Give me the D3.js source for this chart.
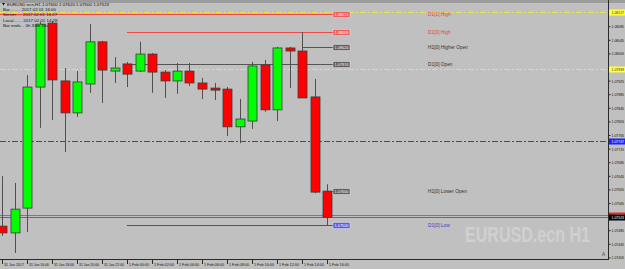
<!DOCTYPE html>
<html lang="en">
<head>
<meta charset="UTF-8">
<title>EURUSD.ecn H1</title>
<style>
  body { margin: 0; background: #c0c0c0; }
  svg { display: block; font-family: "Liberation Sans", Arial, sans-serif; }
  .narrow { font-family: "Liberation Sans Narrow", "Arial Narrow", "Liberation Sans", sans-serif; }
</style>
</head>
<body>
<div id="chart"></div>
<script src="https://d3js.org/d3.v7.min.js"></script>
<script>
// ---- data ----
const barTimes = [
  "2017.01.31 14:00", "2017.01.31 15:00", "2017.01.31 16:00", "2017.01.31 17:00", "2017.01.31 18:00",
  "2017.01.31 19:00", "2017.01.31 20:00", "2017.01.31 21:00", "2017.01.31 22:00", "2017.01.31 23:00",
  "2017.02.01 00:00", "2017.02.01 01:00", "2017.02.01 02:00", "2017.02.01 03:00", "2017.02.01 04:00",
  "2017.02.01 05:00", "2017.02.01 06:00", "2017.02.01 07:00", "2017.02.01 08:00", "2017.02.01 09:00",
  "2017.02.01 10:00", "2017.02.01 11:00", "2017.02.01 12:00", "2017.02.01 13:00", "2017.02.01 14:00",
  "2017.02.01 15:00", "2017.02.01 16:00"
];
const opens  = [1.07497, 1.07477, 1.07550, 1.07906, 1.08094, 1.07924, 1.07830, 1.07915, 1.08039, 1.07953,
                1.07974, 1.07953, 1.08003, 1.07950, 1.07924, 1.07953, 1.07918, 1.07903, 1.07900, 1.07789,
                1.07806, 1.07971, 1.07839, 1.08021, 1.08012, 1.07877, 1.07600];
const highs  = [1.07644, 1.07624, 1.07941, 1.08097, 1.08100, 1.07962, 1.07953, 1.08091, 1.08042, 1.07994,
                1.07980, 1.08039, 1.08006, 1.07956, 1.07977, 1.07977, 1.07933, 1.07918, 1.07906, 1.07871,
                1.07980, 1.07986, 1.08024, 1.08024, 1.08068, 1.07930, 1.07620];
const lows   = [1.07468, 1.07418, 1.07480, 1.07786, 1.07809, 1.07715, 1.07818, 1.07889, 1.07859, 1.07918,
                1.07906, 1.07950, 1.07889, 1.07874, 1.07886, 1.07909, 1.07871, 1.07868, 1.07762, 1.07741,
                1.07783, 1.07833, 1.07806, 1.07903, 1.07874, 1.07594, 1.07500];
const closes = [1.07477, 1.07547, 1.07906, 1.08091, 1.07927, 1.07830, 1.07921, 1.08039, 1.07956, 1.07962,
                1.07944, 1.08003, 1.07950, 1.07924, 1.07953, 1.07918, 1.07900, 1.07897, 1.07789, 1.07812,
                1.07968, 1.07839, 1.08021, 1.08012, 1.07874, 1.07597, 1.07523];

const priceTicks = [1.08085, 1.08045, 1.08005, 1.07925, 1.07885, 1.07845, 1.07805, 1.07765, 1.07725,
                    1.07685, 1.07645, 1.07605, 1.07565, 1.07485, 1.07445, 1.07405];
const timeTicks = ["2017.01.31 14:00", "2017.01.31 16:00", "2017.01.31 18:00", "2017.01.31 20:00",
                   "2017.01.31 22:00", "2017.02.01 00:00", "2017.02.01 02:00", "2017.02.01 04:00",
                   "2017.02.01 06:00", "2017.02.01 08:00", "2017.02.01 10:00", "2017.02.01 12:00",
                   "2017.02.01 14:00", "2017.02.01 16:00"];
const timeLabels = ["31 Jan 2017", "31 Jan 16:00", "31 Jan 18:00", "31 Jan 20:00", "31 Jan 22:00",
                    "1 Feb 00:00", "1 Feb 02:00", "1 Feb 04:00", "1 Feb 06:00", "1 Feb 08:00",
                    "1 Feb 10:00", "1 Feb 12:00", "1 Feb 14:00", "1 Feb 16:00"];

// level lines drawn by the indicator
const levelNames  = ["D1[1] High", "D1[0] High", "H1[0] Higher Open", "D1[0] Open", "H1[0] Lower Open", "D1[0] Low"];
const levelKinds  = ["high", "high", "open", "open", "open", "low"];
const levelPrices = [1.08121, 1.08068, 1.08024, 1.07974, 1.07600, 1.07500];
const levelStarts = ["2017.01.31 00:00", "2017.02.01 00:00", "2017.02.01 14:00", "2017.02.01 00:00", "2017.02.01 16:00", "2017.02.01 00:00"];

// full width lines: pivots, bid, ask
const pivotPrices = [1.08127, 1.07959];
const midPrice = 1.07747;
const askPrice = 1.07530;
const bidPrice = 1.07523;

const infoLines = [
  "EURUSD.ecn,H1  1.07600 1.07620 1.07500 1.07523",
  "Bar.........  2017.02.01 16:00",
  "Server.....  2017.02.01 16:27",
  "Local.......  2017.02.01 14:28",
  "Bar ends...  0h 33m 34s"
];

// ---- chart ----
const W = 625, H = 269;
const plotRight = 608, plotTop = 4, plotBottom = 259;
const parse = d3.timeParse("%Y.%m.%d %H:%M");

const x = d3.scaleTime()
  .domain([parse(barTimes[0]), parse(barTimes[barTimes.length - 1])])
  .range([2, 327]);
const y = d3.scaleLinear().domain([1.074, 1.0815]).range([259.1, 4.1]);
const fmt = d3.format(".5f");
const py = p => Math.round(y(p)) + 0.5;

const svg = d3.select("#chart").append("svg")
  .attr("width", W).attr("height", H);

svg.append("rect").attr("width", W).attr("height", H).attr("fill", "#c0c0c0");
svg.append("rect").attr("width", W).attr("height", 3).attr("fill", "#9c9c9c");

// watermark
svg.append("text")
  .attr("x", 465).attr("y", 242)
  .attr("font-size", 22).attr("font-weight", "bold")
  .attr("textLength", 125).attr("lengthAdjust", "spacingAndGlyphs")
  .attr("fill", "#d0d0d0")
  .text("EURUSD.ecn H1");

svg.append("clipPath").attr("id", "clip")
  .append("rect").attr("x", 0).attr("y", plotTop).attr("width", plotRight).attr("height", plotBottom - plotTop);
const plot = svg.append("g").attr("clip-path", "url(#clip)");

// pivot / mid lines
plot.selectAll(".pivot").data(pivotPrices).join("line")
  .attr("x1", 0).attr("x2", plotRight)
  .attr("y1", py).attr("y2", py)
  .attr("stroke", "#e6e64a").attr("stroke-dasharray", "6,2,2,2");
plot.append("line")
  .attr("x1", 0).attr("x2", plotRight)
  .attr("y1", py(midPrice)).attr("y2", py(midPrice))
  .attr("stroke", "#3c3cc8").attr("stroke-dasharray", "6,2,2,2");

// ask / bid
plot.append("line")
  .attr("x1", 0).attr("x2", plotRight)
  .attr("y1", py(askPrice)).attr("y2", py(askPrice))
  .attr("stroke", "#f04848");
plot.append("line")
  .attr("x1", 0).attr("x2", plotRight)
  .attr("y1", py(bidPrice)).attr("y2", py(bidPrice))
  .attr("stroke", "#6a6a6a");

// indicator levels
const lineColor = { high: "#f04848", open: "#555", low: "#4444dd" };
const boxColor  = { high: "#f05a5a", open: "#5e5e5e", low: "#5a5ae6" };
const textColor = { high: "#e04646", open: "#333", low: "#3c3cc8" };
const boxX = 333;

const levels = levelNames.map((n, i) => ({ name: n, kind: levelKinds[i], price: levelPrices[i], start: parse(levelStarts[i]) }));
plot.selectAll(".lvl").data(levels).join("line")
  .attr("x1", d => Math.max(0, x(d.start))).attr("x2", boxX)
  .attr("y1", d => py(d.price)).attr("y2", d => py(d.price))
  .attr("stroke", d => lineColor[d.kind]);

// candles
const bars = barTimes.map((t, i) => ({ t: parse(t), o: opens[i], h: highs[i], l: lows[i], c: closes[i] }));
const bw = 9;
const candle = plot.selectAll(".bar").data(bars).join("g");
candle.append("line")
  .attr("x1", d => Math.round(x(d.t)) + 0.5).attr("x2", d => Math.round(x(d.t)) + 0.5)
  .attr("y1", d => y(d.h)).attr("y2", d => y(d.l))
  .attr("stroke", "#505050");
candle.append("rect")
  .attr("x", d => Math.round(x(d.t)) - bw / 2 + 0.5)
  .attr("y", d => y(Math.max(d.o, d.c)))
  .attr("width", bw)
  .attr("height", d => Math.max(2, Math.abs(y(d.o) - y(d.c))))
  .attr("fill", d => d.c >= d.o ? "#00ff00" : "#ff0000")
  .attr("stroke", "#3a3a3a").attr("stroke-width", 0.8);

// level boxes and names
const lvlG = plot.selectAll(".lbl").data(levels).join("g")
  .attr("transform", d => `translate(${boxX},${py(d.price)})`);
lvlG.append("rect")
  .attr("x", 0).attr("y", -3).attr("width", 17).attr("height", 6)
  .attr("fill", d => boxColor[d.kind]).attr("stroke", "#e8e8e8").attr("stroke-width", 0.5);
lvlG.append("text")
  .attr("class", "narrow")
  .attr("x", 1.5).attr("y", 1.7)
  .attr("font-size", 4.4).attr("fill", "#fff")
  .attr("textLength", 14).attr("lengthAdjust", "spacingAndGlyphs")
  .text(d => fmt(d.price));
plot.selectAll(".lname").data(levels).join("text")
  .attr("x", 428).attr("y", d => py(d.price) + 1.5)
  .attr("font-size", 4.8).attr("fill", d => textColor[d.kind])
  .text(d => d.name);

// info text
svg.append("path").attr("d", "M2,3 L5,3 L3.5,5.5 Z").attr("fill", "#111");
svg.selectAll(".info").data(infoLines).join("text")
  .attr("x", (d, i) => i === 0 ? 7 : 3)
  .attr("y", (d, i) => 6 + i * 5.2)
  .attr("font-size", 4.4).attr("fill", "#111")
  .text(d => d);

// right price axis
svg.append("line").attr("x1", plotRight + 0.5).attr("x2", plotRight + 0.5)
  .attr("y1", 0).attr("y2", plotBottom).attr("stroke", "#2a2a2a");
const yAxis = svg.append("g").attr("transform", `translate(${plotRight + 0.5},0)`)
  .call(d3.axisRight(y).tickValues(priceTicks).tickSize(2).tickPadding(1).tickFormat(fmt));
yAxis.select(".domain").remove();
yAxis.selectAll(".tick line").attr("stroke", "#2a2a2a");
yAxis.selectAll(".tick text")
  .attr("class", "narrow")
  .attr("font-size", 4.4).attr("fill", "#111")
  .attr("textLength", 12.5).attr("lengthAdjust", "spacingAndGlyphs")
  .attr("font-family", null);

// highlighted price labels
const hlPrices = [pivotPrices[0], pivotPrices[1], midPrice, askPrice, bidPrice];
const hlFill = ["#ffff3c", "#ffff3c", "#2020ff", "#ff2020", "#000"];
const hlText = ["#333", "#333", "#fff", "#fff", "#fff"];
const hl = svg.selectAll(".hl").data(hlPrices).join("g")
  .attr("transform", d => `translate(${plotRight + 1},${py(d)})`);
hl.append("rect").attr("x", 0).attr("y", -3).attr("width", 16).attr("height", 6)
  .attr("fill", (d, i) => hlFill[i]);
hl.append("text").attr("class", "narrow")
  .attr("x", 2.5).attr("y", 1.6).attr("font-size", 4.4)
  .attr("textLength", 12.5).attr("lengthAdjust", "spacingAndGlyphs")
  .attr("fill", (d, i) => hlText[i]).text(d => fmt(d));

// bottom time axis
svg.append("line").attr("x1", 0).attr("x2", plotRight + 1)
  .attr("y1", plotBottom + 0.5).attr("y2", plotBottom + 0.5).attr("stroke", "#2a2a2a");
const xt = svg.selectAll(".xt").data(timeTicks).join("g")
  .attr("transform", d => `translate(${Math.round(x(parse(d))) + 0.5},0)`);
xt.append("line").attr("y1", plotBottom + 1).attr("y2", plotBottom + 5).attr("stroke", "#2a2a2a");
xt.append("text").attr("class", "narrow")
  .attr("x", 1.5).attr("y", plotBottom + 6.5)
  .attr("font-size", 4.4).attr("fill", "#111")
  .attr("textLength", 20).attr("lengthAdjust", "spacingAndGlyphs")
  .text((d, i) => timeLabels[i]);

svg.append("text").attr("x", 602).attr("y", 256).attr("font-size", 4.5).attr("fill", "#444").text("A");
</script>
</body>
</html>
